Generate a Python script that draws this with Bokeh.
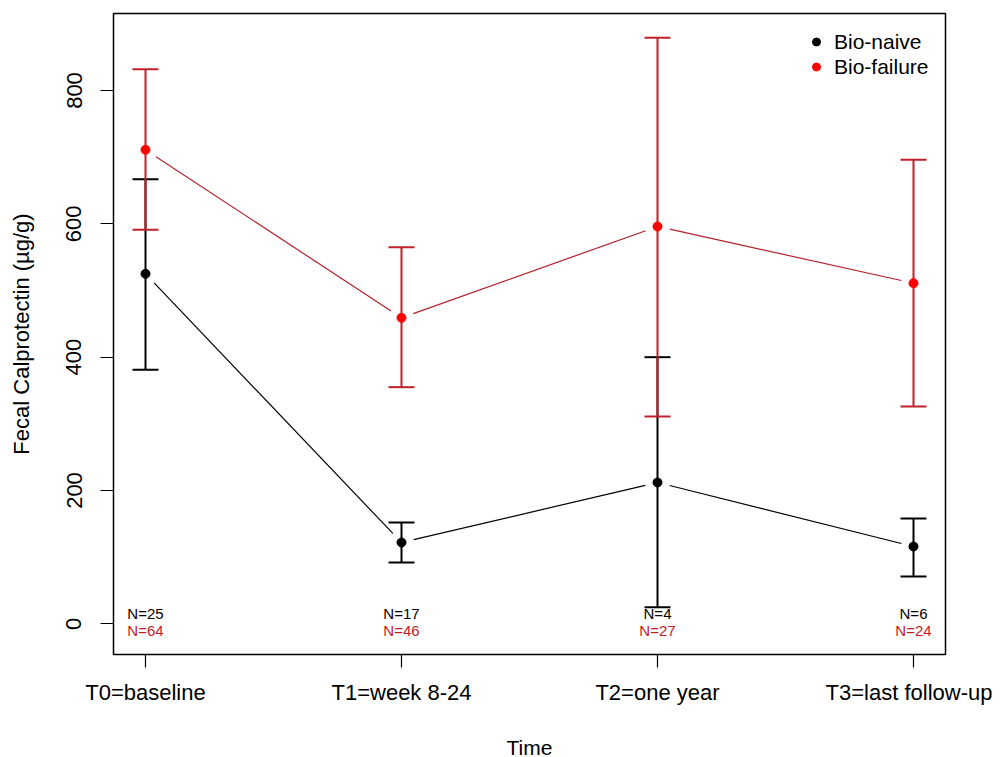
import math
from bokeh.plotting import figure
from bokeh.models import (ColumnDataSource, Whisker, TeeHead, FixedTicker, Range1d,
                          Legend, LegendItem)
from bokeh.core.properties import value
from bokeh.embed import file_html
from bokeh.resources import INLINE

# ---- data ----
x_pos = [1, 2, 3, 4]
time_labels = ["T0=baseline", "T1=week 8-24", "T2=one year", "T3=last follow-up"]
naive_mean = [525, 122, 212, 116]
naive_upper = [667, 152, 400, 158]
naive_lower = [381, 92, 25, 71]
fail_mean = [711, 459, 596, 511]
fail_upper = [832, 565, 879, 696]
fail_lower = [591, 355, 311, 326]
naive_n = ["N=25", "N=17", "N=4", "N=6"]
fail_n = ["N=64", "N=46", "N=27", "N=24"]
y_ticks = [0, 200, 400, 600, 800]

FONT = "Liberation Sans"
BLACK = "#000000"
DARKRED = "#B3202A"
BARRED = "#C0202A"
RED = "#FF0000"

X0, X1 = 0.875, 4.125
Y0, Y1 = -46, 915.5
FW, FH = 832, 641

p = figure(width=992, height=748, frame_width=FW, frame_height=FH,
           x_range=Range1d(X0, X1), y_range=Range1d(Y0, Y1),
           output_backend="svg", toolbar_location=None,
           min_border_left=113, min_border_right=47, min_border_top=13, min_border_bottom=94)
p.background_fill_color = "white"
p.border_fill_color = "white"
p.xgrid.visible = False
p.ygrid.visible = False
p.outline_line_color = "black"
p.outline_line_width = 1.5

for ax in (p.xaxis[0], p.yaxis[0]):
    ax.axis_line_color = None
    ax.major_tick_out = 13
    ax.major_tick_in = 0
    ax.major_tick_line_width = 1.2
    ax.minor_tick_line_color = None
    ax.major_label_text_font = FONT
    ax.major_label_text_font_size = "22px"
    ax.major_label_text_color = "black"
    ax.axis_label_text_font = FONT
    ax.axis_label_text_font_size = "21px"
    ax.axis_label_text_font_style = "normal"
    ax.axis_label_text_color = "black"

p.xaxis.ticker = FixedTicker(ticks=x_pos)
p.xaxis.major_label_overrides = {x: l for x, l in zip(x_pos, time_labels)}
p.xaxis.axis_label = "Time"
p.xaxis.major_label_standoff = 12
p.xaxis.axis_label_standoff = 28

p.yaxis.ticker = FixedTicker(ticks=y_ticks)
p.yaxis.major_label_orientation = "vertical"
p.yaxis.axis_label = "Fecal Calprotectin (µg/g)"
p.yaxis.axis_label_text_font_size = "22px"
p.yaxis.major_label_standoff = 19
p.yaxis.axis_label_standoff = 30

sx = FW / (X1 - X0)
sy = FH / (Y1 - Y0)
GAP = 12.5


def gap_segments(xs, ys):
    x0s, y0s, x1s, y1s = [], [], [], []
    for i in range(len(xs) - 1):
        dx = (xs[i + 1] - xs[i]) * sx
        dy = (ys[i + 1] - ys[i]) * sy
        L = math.hypot(dx, dy)
        f = GAP / L
        x0s.append(xs[i] + f * (xs[i + 1] - xs[i]))
        y0s.append(ys[i] + f * (ys[i + 1] - ys[i]))
        x1s.append(xs[i + 1] - f * (xs[i + 1] - xs[i]))
        y1s.append(ys[i + 1] - f * (ys[i + 1] - ys[i]))
    return dict(x0=x0s, y0=y0s, x1=x1s, y1=y1s)


def add_series(mean, upper, lower, line_col, bar_col, pt_col):
    src = ColumnDataSource(dict(x=x_pos, m=mean, u=upper, l=lower))
    w = Whisker(source=src, base="x", upper="u", lower="l", dimension="height",
                line_color=bar_col, line_width=2,
                upper_head=TeeHead(size=26, line_color=bar_col, line_width=2),
                lower_head=TeeHead(size=26, line_color=bar_col, line_width=2))
    p.add_layout(w)
    seg = gap_segments(x_pos, mean)
    p.segment(x0="x0", y0="y0", x1="x1", y1="y1", source=ColumnDataSource(seg),
              line_color=line_col, line_width=1.2)
    r = p.scatter(x="x", y="m", source=src, size=9, fill_color=pt_col,
                  line_color=pt_col, marker="circle")
    return r


r_naive = add_series(naive_mean, naive_upper, naive_lower, BLACK, BLACK, BLACK)
r_fail = add_series(fail_mean, fail_upper, fail_lower, DARKRED, BARRED, RED)

# N labels
p.text(x=x_pos, y=[0] * 4, text=naive_n, text_font=value(FONT), text_font_size="15px",
       text_color="black", text_align="center", text_baseline="middle", y_offset=-10)
p.text(x=x_pos, y=[0] * 4, text=fail_n, text_font=value(FONT), text_font_size="15px",
       text_color=BARRED, text_align="center", text_baseline="middle", y_offset=7)

legend = Legend(items=[LegendItem(label="Bio-naive", renderers=[r_naive]),
                       LegendItem(label="Bio-failure", renderers=[r_fail])],
                location=(693, 575))
legend.border_line_color = None
legend.background_fill_alpha = 0
legend.label_text_font = FONT
legend.label_text_font_size = "21px"
legend.label_text_color = "black"
legend.label_height = 25
legend.glyph_height = 25
legend.glyph_width = 20
legend.label_standoff = 8
legend.spacing = 0
legend.padding = 10
legend.margin = 0
p.add_layout(legend)

open("out.html", "w").write(file_html(p, INLINE))
